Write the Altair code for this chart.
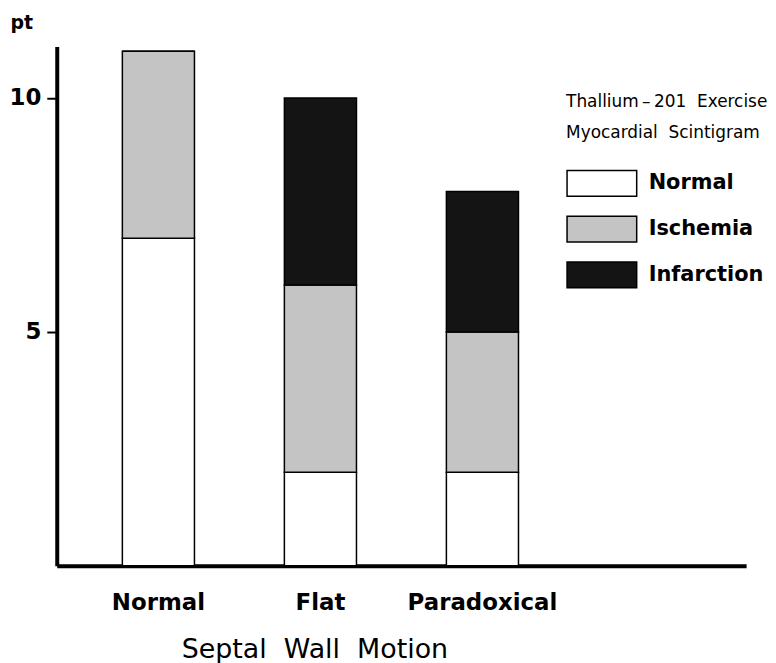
import altair as alt
import pandas as pd

categories = ["Normal", "Flat", "Paradoxical"]
normal = [7, 2, 2]
ischemia = [4, 4, 3]
infarction = [0, 4, 3]
groups = ["Normal", "Ischemia", "Infarction"]
colors = ["#ffffff", "#c4c4c4", "#141414"]

rows = []
for i, c in enumerate(categories):
    for g, vals, o in zip(groups, [normal, ischemia, infarction], [0, 1, 2]):
        rows.append({"motion": c, "group": g, "count": vals[i], "order": o})
df = pd.DataFrame(rows)

FONT = "DejaVu Sans"
x_domain = categories + [" "]

chart = alt.Chart(df).mark_bar(stroke="black", strokeWidth=1.5).encode(
    x=alt.X(
        "motion:N",
        scale=alt.Scale(domain=x_domain, paddingInner=0.555, paddingOuter=0.405),
        sort=x_domain,
        axis=alt.Axis(
            title="Septal\u00a0\u00a0Wall\u00a0\u00a0Motion",
            titleFont=FONT, titleFontSize=27, titleFontWeight="normal", titleColor="black",
            titleX=259, titleY=92, titleAlign="center", titleBaseline="alphabetic",
            labelFont=FONT, labelFontSize=23, labelFontWeight="bold", labelColor="black",
            labelAngle=0, labelPadding=26, ticks=False,
            domainColor="black", domainWidth=4,
        ),
    ),
    y=alt.Y(
        "count:Q",
        stack="zero",
        scale=alt.Scale(domain=[0, 11.1], nice=False),
        axis=alt.Axis(
            values=[5, 10], grid=False,
            title="pt", titleAngle=0, titleX=-47, titleY=-18, titleAlign="left",
            titleBaseline="alphabetic", titleFont=FONT, titleFontSize=19,
            titleFontWeight="bold", titleColor="black",
            labelFont=FONT, labelFontSize=23, labelFontWeight="bold", labelColor="black",
            labelPadding=6, tickSize=10, tickWidth=2, tickColor="black",
            domainColor="black", domainWidth=4,
        ),
    ),
    fill=alt.Fill(
        "group:N",
        scale=alt.Scale(domain=groups, range=colors),
        legend=alt.Legend(
            title=["Thallium\u2009\u2013\u2009201\u00a0\u00a0Exercise", "Myocardial\u00a0\u00a0Scintigram"],
            orient="none", legendX=512, legendY=48,
            titleFont=FONT, titleFontSize=17, titleFontWeight="normal", titleColor="black",
            titleLineHeight=31, titlePadding=23, titleLimit=400,
            symbolType="M-1,-0.74H3V0.74H-1Z", symbolSize=1225,
            symbolStrokeColor="black", symbolStrokeWidth=1.5, symbolOpacity=1,
            labelFont=FONT, labelFontSize=21, labelFontWeight="bold", labelColor="black",
            labelOffset=46, rowPadding=11, labelLimit=300,
        ),
    ),
    order=alt.Order("order:Q"),
).properties(
    width=693, height=522,
    padding={"left": 49, "top": 37, "right": 22, "bottom": 96},
    autosize=alt.AutoSizeParams(type="none"),
    background="white",
).configure_view(strokeWidth=0)

chart.save("out.html", embed_options={"renderer": "svg", "actions": False})
